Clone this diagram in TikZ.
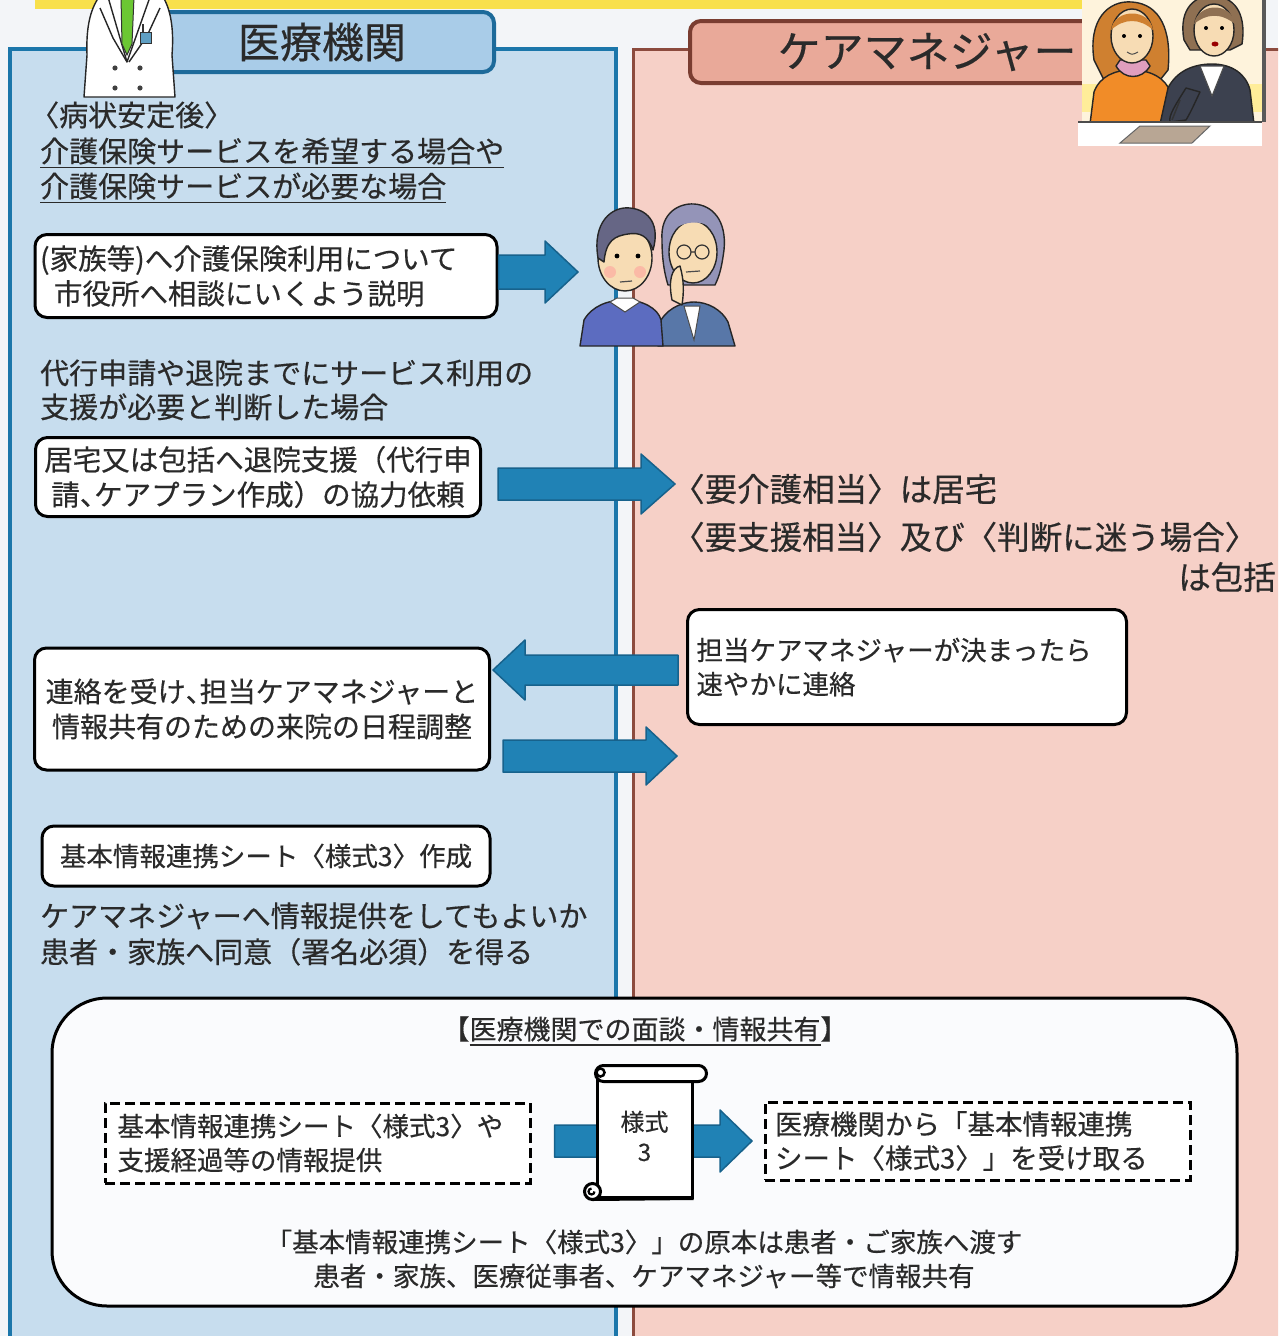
\documentclass[tikz,border=0pt]{standalone}
\usepackage{fontspec}
\setmainfont{Noto Sans CJK JP}[FakeBold=0.4]
\usetikzlibrary{calc}

\definecolor{bgpage}{HTML}{F3F5F8}
\definecolor{bluefill}{HTML}{C7DDEE}
\definecolor{blueedge}{HTML}{1B76AA}
\definecolor{bluetab}{HTML}{A9CCE8}
\definecolor{bluetabedge}{HTML}{1D6A9A}
\definecolor{pinkfill}{HTML}{F6D0C7}
\definecolor{pinkedge}{HTML}{8C4B3E}
\definecolor{pinktab}{HTML}{E9A999}
\definecolor{pinktabedge}{HTML}{7A3D31}
\definecolor{arrowfill}{HTML}{2082B5}
\definecolor{arrowedge}{HTML}{17628C}
\definecolor{ink}{HTML}{2A2A2A}
\definecolor{yellowbar}{HTML}{F8E04C}
\definecolor{skin}{HTML}{F7DCB4}
\definecolor{cardwhite}{HTML}{FAFBFD}
\definecolor{suit}{HTML}{3C414F}
\definecolor{sweater}{HTML}{5C6CC0}
\definecolor{jacket}{HTML}{5877A8}

\newcommand\fs[2]{\fontsize{#1}{#2}\selectfont}
% thick underline under a piece of text
\newcommand\ulined[1]{\leavevmode\setbox0\hbox{#1}\rlap{\vrule width\wd0 height -4.5pt depth 6.2pt}\box0}
% ideographic comma set half width
\newcommand\hc{\makebox[0.5em][l]{、}}
% block arrow: tail x from #1, tip at #2, half shaft #3, half head #4, head length #5 (signed)
\newcommand\fatarrow[5]{%
  \filldraw[fatarrow] let \p1=#1, \p2=#2 in
    (\x1,\y2+#3pt) -- (\x2-#5pt,\y2+#3pt) -- (\x2-#5pt,\y2+#4pt) -- (\x2,\y2)
    -- (\x2-#5pt,\y2-#4pt) -- (\x2-#5pt,\y2-#3pt) -- (\x1,\y2-#3pt) -- cycle;}

\begin{document}
\begin{tikzpicture}[x=1pt,y=-1pt,
  txt/.style={inner sep=0pt, text=ink, font=\fs{27}{35}, align=left},
  rtxt/.style={inner sep=0pt, text=ink, font=\fs{32.5}{48}, align=left},
  cardbox/.style={draw=black, line width=3pt, fill=white, rounded corners=12pt,
    text=ink, font=\fs{27}{35}, inner ysep=0pt},
  dashbox/.style={draw=black, line width=3pt, dash pattern=on 10pt off 5pt,
    fill=white, text=ink, font=\fs{26.5}{34}, inner ysep=0pt, align=left},
  fatarrow/.style={fill=arrowfill, draw=arrowedge, line width=1.5pt, line join=round},
  tabblue/.style={draw=bluetabedge, fill=bluetab, line width=4pt, rounded corners=11pt,
    text=ink, font=\fs{42}{50}, inner sep=0pt},
  tabpink/.style={draw=pinktabedge, fill=pinktab, line width=4pt, rounded corners=11pt,
    text=ink, font=\fs{43}{50}, inner sep=0pt},
  outline/.style={draw=black!85, line width=1.4pt, line join=round}]

\useasboundingbox (0,0) rectangle (1278,1336);
\clip (0,0) rectangle (1278,1336);
\fill[bgpage] (0,0) rectangle (1278,1336);
\fill[yellowbar] (35,-5) rectangle (1112,9);

% the two columns
\filldraw[fill=bluefill, draw=blueedge, line width=4pt] (10,49) rectangle (616,1350);
\filldraw[fill=pinkfill, draw=pinkedge, line width=3pt] (633,49) rectangle (1300,1350);

% column headers
\node[tabblue, minimum width=344, minimum height=60] (hdrL) at (322,42) {医療機関};
\node[tabpink, minimum width=404, minimum height=62] (hdrR) at (892,52) {\hspace*{70pt}ケアマネジャー};

% ---- doctor
\filldraw[fill=white, outline] (84,97) -- (87,55) .. controls (86,28) and (90,10) .. (99,-3)
  -- (163,-3) .. controls (171,10) and (174,30) .. (172,55) -- (175,97) -- cycle;
\filldraw[fill=white, outline] (108,-3) -- (127,62) -- (150,-3) -- cycle;
\filldraw[fill=green!45!olive!80!white, draw=black!80, line width=1pt]
  (121,-3) -- (134,-3) -- (132,44) -- (127,55) -- (122,44) -- cycle;
\draw[outline] (100,8) -- (113,38) -- (127,62) (160,8) -- (147,36) -- (129,62);
\filldraw[fill=blueedge!70, draw=black!80, line width=1pt] (140,32) rectangle (151,43);
\draw[black!80, line width=1.2pt] (143,32) -- (143,24);
\foreach \bx/\by in {115/68, 140/68, 115/88, 140/88} \fill[black!75] (\bx,\by) circle (2.6);

% ---- elderly couple
\filldraw[fill=jacket, outline] (658,346) -- (661,320) .. controls (670,306) and (685,302) .. (694,302)
  .. controls (708,302) and (722,310) .. (728,322) -- (735,346) -- cycle;
\filldraw[fill=white, draw=black!70, line width=1pt] (684,306) -- (700,306) -- (694,340) -- cycle;
\filldraw[fill=gray!80!blue!70, outline] (662,240) .. controls (660,212) and (680,203) .. (694,204)
  .. controls (712,205) and (727,220) .. (724,250) .. controls (722,265) and (720,275) .. (715,285)
  -- (668,285) .. controls (664,272) and (662,258) .. (662,240) -- cycle;
\filldraw[fill=skin, outline] (693,252) ellipse (24 and 31);
\fill[gray!80!blue!70] (668,240) .. controls (672,218) and (714,216) .. (718,238) -- (716,224) .. controls (705,210) and (680,210) .. (670,226) -- cycle;
\draw[black!80, line width=1.2pt] (684,252) circle (7) (702,252) circle (7) (691,252) -- (695,252);
\draw[black!70, line width=1.2pt] (686,272) -- (700,271);
\filldraw[fill=skin, outline] (672,300) .. controls (668,280) and (672,268) .. (680,266) .. controls (684,280) and (684,292) .. (682,305) -- cycle;
\filldraw[fill=sweater, outline] (580,346) -- (584,320) .. controls (592,306) and (608,300) .. (625,300)
  .. controls (642,300) and (658,308) .. (661,320) -- (663,346) -- cycle;
\filldraw[fill=white, draw=black!70, line width=1pt] (610,302) -- (625,312) -- (640,302) -- (633,298) -- (617,298) -- cycle;
\filldraw[fill=skin, outline] (625,258) ellipse (27 and 33);
\filldraw[fill=black!80!blue!60, outline] (598,258) .. controls (592,222) and (612,206) .. (630,208)
  .. controls (650,210) and (660,226) .. (653,250) .. controls (648,236) and (640,232) .. (628,234)
  .. controls (615,236) and (606,240) .. (604,262) -- cycle;
\fill[black] (617,256) circle (2.4) (638,256) circle (2.4);
\fill[red!40, opacity=0.5] (610,272) circle (6) (640,272) circle (6);
\draw[black!70, line width=1.2pt] (620,282) -- (632,281);

% ---- care managers at a counter
\fill[yellow!30!orange!12] (1082,0) rectangle (1262,122);
\fill[orange!35!yellow!40] (1082,84) rectangle (1262,112);
\draw[gray!70!black, line width=4pt] (1264,-2) -- (1264,122);
\filldraw[fill=brown!75!orange, outline] (1094,60) .. controls (1088,20) and (1108,0) .. (1132,2)
  .. controls (1160,4) and (1172,30) .. (1168,70) -- (1160,80) -- (1104,80) -- cycle;
\filldraw[fill=orange!75!brown!90, outline] (1090,124) -- (1094,92) .. controls (1100,76) and (1115,70) .. (1132,70)
  .. controls (1150,70) and (1166,78) .. (1170,92) -- (1174,124) -- cycle;
\filldraw[fill=violet!30!pink!80, outline] (1116,66) .. controls (1124,80) and (1142,80) .. (1150,66) -- (1146,60) -- (1120,60) -- cycle;
\filldraw[fill=skin, outline] (1132,36) ellipse (21 and 27);
\fill[brown!75!orange] (1111,30) .. controls (1114,8) and (1150,8) .. (1153,30) .. controls (1140,18) and (1124,18) .. cycle;
\fill[black] (1124,36) circle (2) (1140,36) circle (2);
\draw[black!70, line width=1pt] (1127,52) .. controls (1132,55) .. (1138,52);
\filldraw[fill=brown!60!black!80, outline] (1184,40) .. controls (1178,8) and (1196,-6) .. (1215,-4)
  .. controls (1238,-2) and (1246,18) .. (1242,44) -- (1230,50) -- (1190,50) -- cycle;
\filldraw[fill=suit, outline] (1160,124) -- (1168,88) .. controls (1176,72) and (1192,64) .. (1212,64)
  .. controls (1232,64) and (1246,74) .. (1250,90) -- (1254,124) -- cycle;
\filldraw[fill=white, draw=black!70, line width=1pt] (1200,66) -- (1212,96) -- (1224,66) -- cycle;
\filldraw[fill=skin, outline] (1214,30) ellipse (20 and 26);
\fill[brown!60!black!80] (1194,24) .. controls (1198,2) and (1232,2) .. (1235,24) .. controls (1220,12) and (1206,14) .. cycle;
\fill[black] (1206,28) circle (2) (1222,28) circle (2);
\fill[red!60!black] (1215,44) ellipse (3.5 and 2.5);
\filldraw[fill=suit, outline] (1186,88) .. controls (1176,104) and (1168,116) .. (1170,122) -- (1186,120) .. controls (1192,110) and (1196,100) .. (1200,92) -- cycle;
\fill[white] (1078,122) rectangle (1262,146);
\draw[black!70, line width=2pt] (1078,122) -- (1262,122);
\filldraw[fill=brown!40!gray!70, draw=black!60, line width=1pt] (1120,143) -- (1140,126) -- (1210,126) -- (1192,143) -- cycle;
\draw[black!80, line width=1.5pt] (1172,120) -- (1180,100);

% ---- medical institution column
\node[txt, anchor=west, font=\fs{29}{35}] (stable) at (30,115) {〈病状安定後〉};
\node[txt, anchor=west, font=\fs{29}{35}] (wish) at (40,153) {\ulined{介護保険サービスを希望する場合や}};
\node[txt, anchor=west, font=\fs{29}{35}] (need) at (40,188) {\ulined{介護保険サービスが必要な場合}};

\node[cardbox, minimum width=462, minimum height=83, text width=452, inner xsep=5pt, align=left, font=\fs{28.5}{35}] (explain) at (266,276)
  {(家族等)へ介護保険利用について\\\hspace*{14pt}市役所へ相談にいくよう説明};
\coordinate (family) at (578,272);

\node[txt, anchor=west, font=\fs{29}{34}] (proxy) at (40,390) {代行申請や退院までにサービス利用の\\支援が必要と判断した場合};

\node[cardbox, minimum width=445, minimum height=79, align=center, font=\fs{28.5}{35}] (request) at (258,477)
  {居宅又は包括へ退院支援（代行申\\請\hc ケアプラン作成）の協力依頼};

\node[cardbox, minimum width=455, minimum height=122, align=center, font=\fs{28}{35}] (schedule) at (262,709)
  {連絡を受け\hc 担当ケアマネジャーと\\情報共有のための来院の日程調整};

\node[cardbox, minimum width=448, minimum height=60, align=center, font=\fs{26.5}{35}] (sheet) at (266,856)
  {基本情報連携シート〈様式3〉作成};

\node[txt, anchor=west, font=\fs{29}{36}] (consent) at (40,934)
  {ケアマネジャーへ情報提供をしてもよいか\\患者・家族へ同意（署名必須）を得る};

% ---- care manager column
\node[rtxt, anchor=west] (kyotaku) at (672,489) {〈要介護相当〉は居宅};
\node[rtxt, anchor=west] (hokatsu) at (672,537) {〈要支援相当〉及び〈判断に迷う場合〉};
\node[rtxt, anchor=east] (hokatsu2) at (1276,577) {は包括};

\node[cardbox, minimum width=439, minimum height=115, text width=421, inner xsep=9pt, align=left, font=\fs{26.5}{34}] (decided) at (907,667)
  {担当ケアマネジャーが決まったら\\速やかに連絡};

% ---- arrows between the columns
\coordinate (tip2) at (675,484);
\coordinate (tip4) at (677,756);
\fatarrow{(explain.east)}{(family)}{17}{31}{33}
\fatarrow{($(request.east)+(16,0)$)}{(tip2)}{16}{30}{34}
\fatarrow{($(decided.west)+(-8,0)$)}{($(schedule.east|-decided.west)+(2,3)$)}{15}{30}{-32}
\fatarrow{($(schedule.east)+(12,0)$)}{(tip4)}{16}{29}{31}

% ---- interview at the medical institution
\node[draw=black, line width=3pt, fill=cardwhite, rounded corners=55pt,
  minimum width=1185, minimum height=308] (meeting) at (644.5,1152) {};
\node[txt, font=\fs{27}{34}] (mtitle) at (645,1031) {【\ulined{医療機関での面談・情報共有}】};

\node[dashbox, minimum width=425, minimum height=80, text width=400, inner xsep=12pt] (give) at (317.5,1143)
  {基本情報連携シート〈様式3〉や\\支援経過等の情報提供};
\node[dashbox, minimum width=425, minimum height=78, text width=405, inner xsep=10pt, font=\fs{27.5}{34}] (receive) at (977.5,1141)
  {医療機関から「基本情報連携\\シート〈様式3〉」を受け取る};

\coordinate (tip5) at (752,1141);
\fatarrow{($(give.east)+(23,0)$)}{(tip5)}{16}{31}{32}

% form sheet drawn as a scroll
\node[draw=black, line width=3pt, fill=white, minimum width=95, minimum height=122,
  align=center, text=ink, font=\fs{24}{30}, inner sep=0pt] (form) at (644.5,1136) {様式\\3};
\filldraw[fill=white, draw=black, line width=3pt, rounded corners=8pt]
  ($(form.north west)+(0,-8)$) rectangle ($(form.north east)+(13,8)$);
\filldraw[fill=white, draw=black, line width=2.5pt] ($(form.north west)+(5,-1)$) circle (4);
\filldraw[fill=white, draw=black, line width=3pt] ($(form.south west)+(-3,-7)$) circle (8);
\draw[black, line width=3pt] ($(form.south west)+(-3,1)$) -- (form.south east);
\draw[black, line width=2.2pt] ($(form.south west)+(-1,-7)$) arc[start angle=0, end angle=270, radius=3];

\node[txt, align=center, font=\fs{26.5}{34}] (share) at (644,1259)
  {「基本情報連携シート〈様式3〉」の原本は患者・ご家族へ渡す\\患者・家族、医療従事者、ケアマネジャー等で情報共有};

\end{tikzpicture}
\end{document}
